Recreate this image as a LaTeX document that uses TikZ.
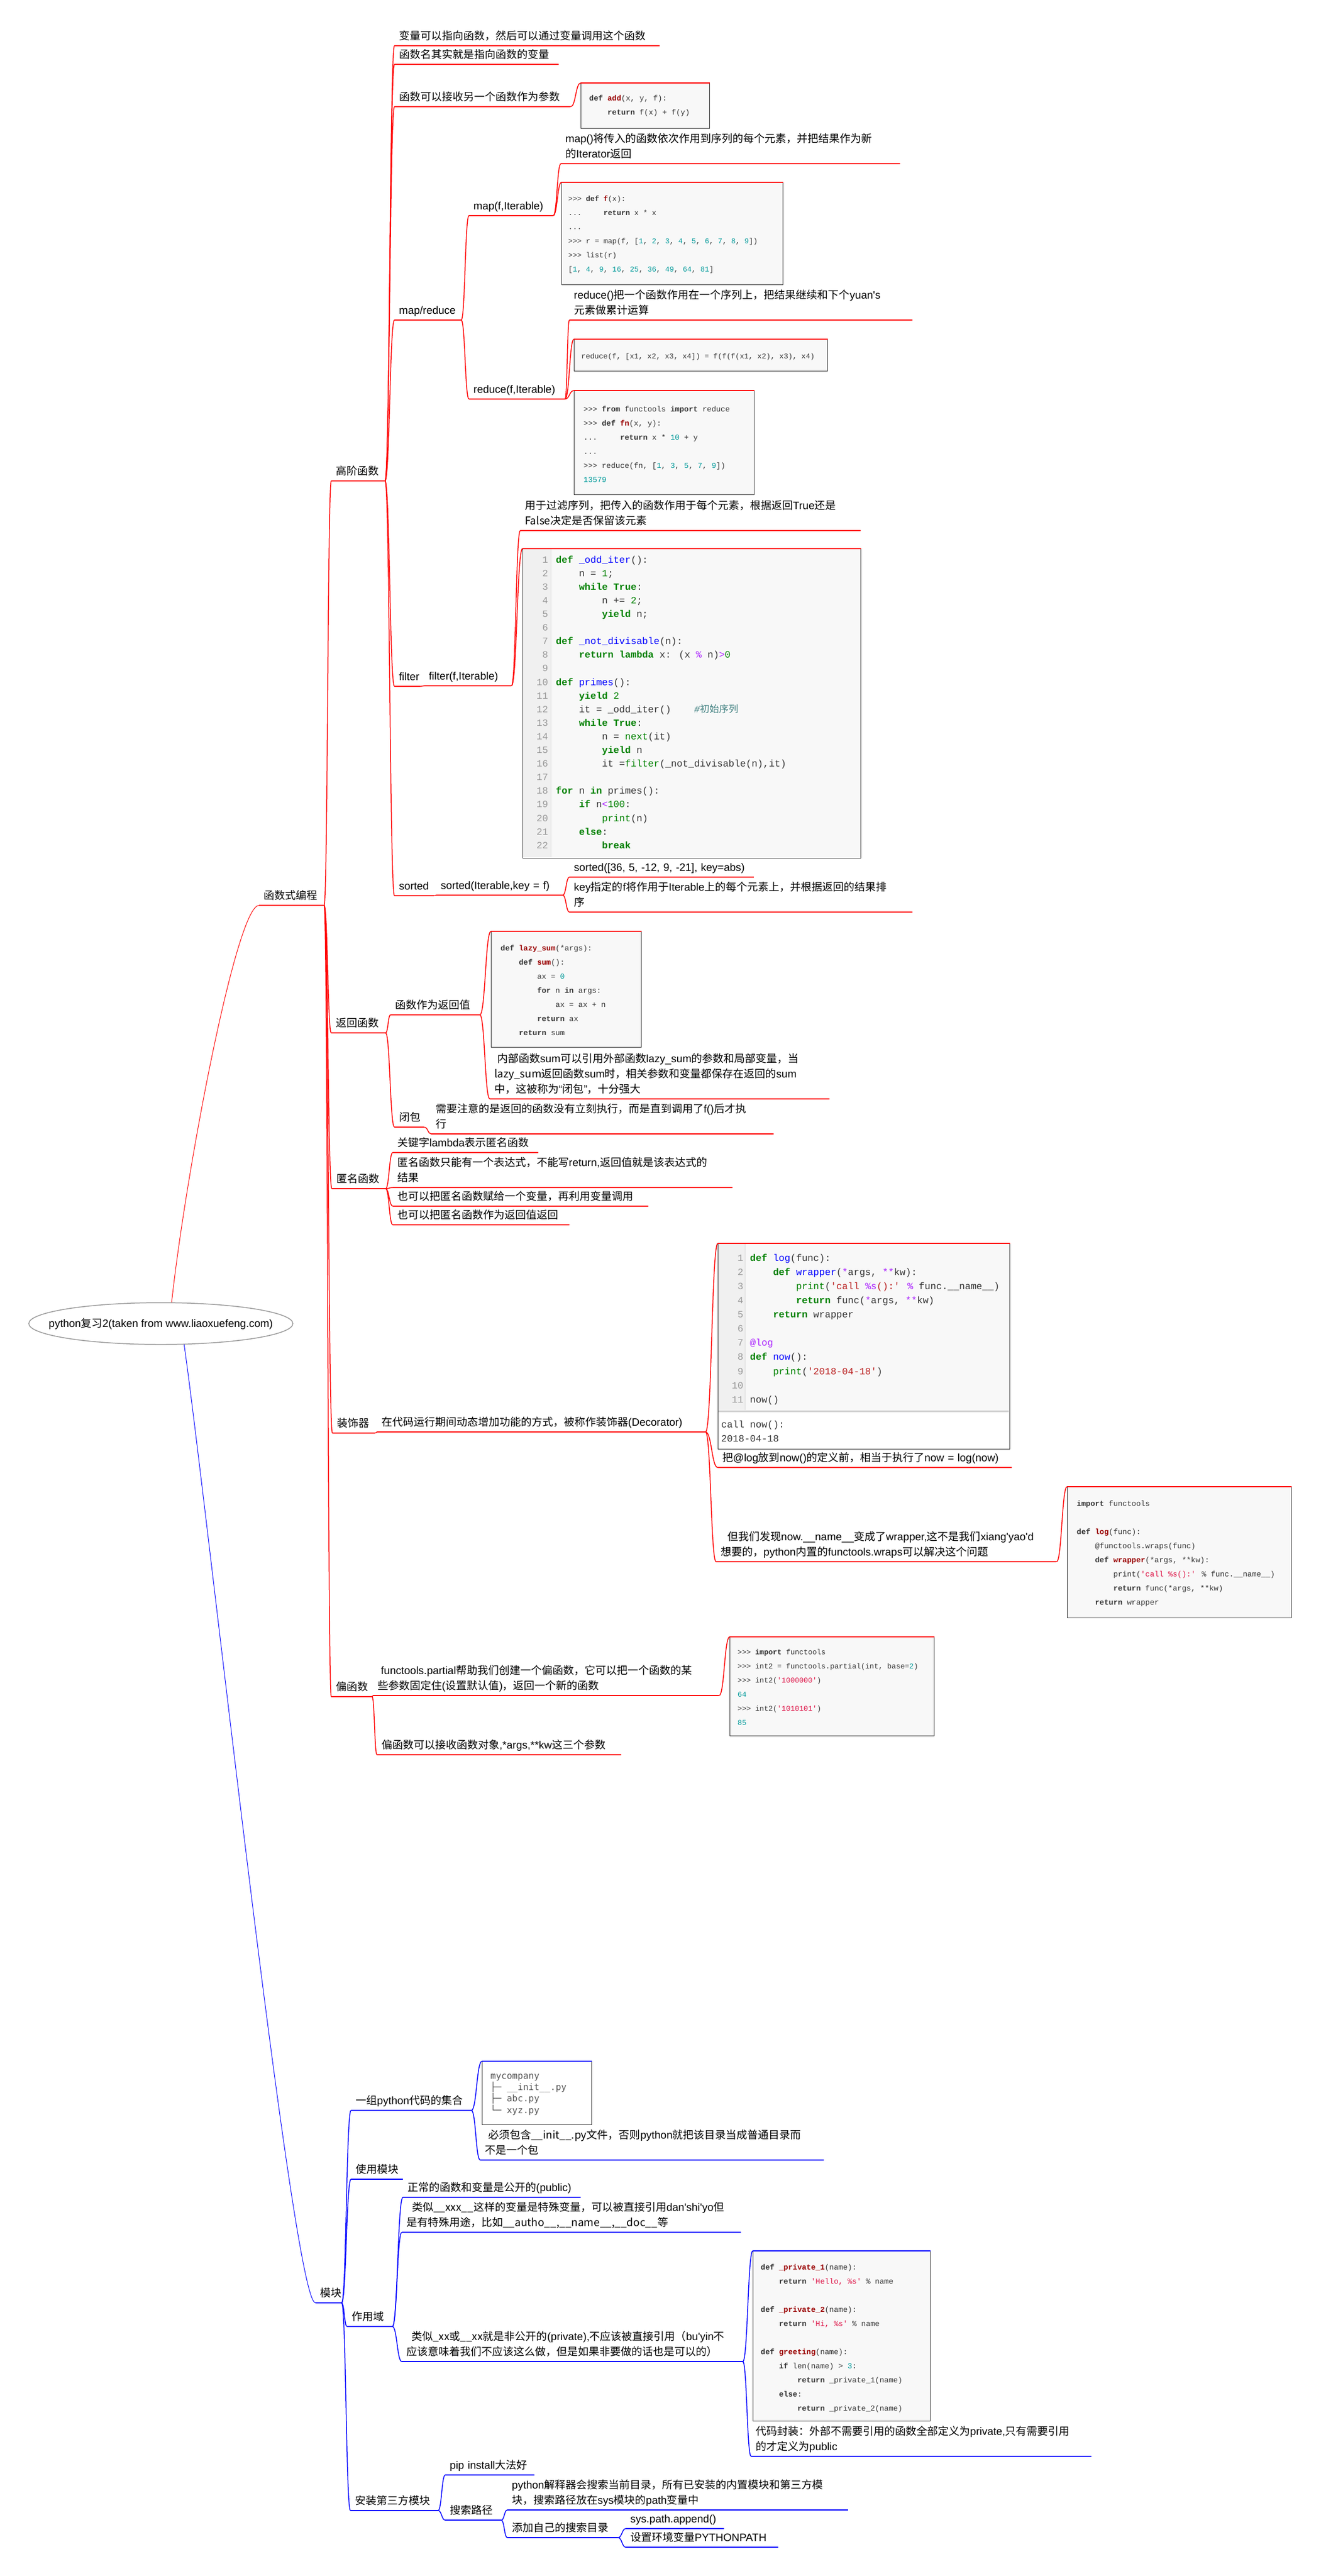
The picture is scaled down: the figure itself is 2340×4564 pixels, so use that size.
\documentclass[tikz,border=0pt]{standalone}
\usepackage{fontspec}
\usetikzlibrary{calc,shapes.geometric}
\setmainfont{Liberation Sans}
\newfontfamily\cjkfont{Noto Sans CJK SC}
\newfontfamily\latfont{Liberation Sans}
\newfontfamily\codefont{Liberation Mono}
\newfontfamily\pkgfont{DejaVu Sans Mono}
\newcount\mmc
\newXeTeXintercharclass\CJKcls
\newcommand\setCJKrange[2]{\mmc=#1\relax\loop\XeTeXcharclass\mmc=\CJKcls\relax\advance\mmc by 1\relax\ifnum\mmc<#2\relax\repeat}
\setCJKrange{"3000}{"3040}
\setCJKrange{"4E00}{"A000}
\setCJKrange{"FF00}{"FFF0}
\XeTeXinterchartoks 0 \CJKcls={\cjkfont}
\XeTeXinterchartoks 4095 \CJKcls={\cjkfont}
\XeTeXinterchartoks \CJKcls 0={\latfont}
\XeTeXinterchartokenstate=1
\definecolor{mmred}{HTML}{FF0000}
\definecolor{mmblue}{HTML}{0000FF}
\definecolor{codebg}{HTML}{F8F8F8}
\definecolor{codefg}{HTML}{333333}
\definecolor{gutbg}{HTML}{F0F0F0}
\definecolor{lnum}{HTML}{999999}
\definecolor{kwg}{HTML}{008000}
\definecolor{fnb}{HTML}{0000FF}
\definecolor{strr}{HTML}{BA2121}
\definecolor{opp}{HTML}{AA22FF}
\definecolor{cmt}{HTML}{408080}
\definecolor{numg}{HTML}{008000}
\definecolor{fnr}{HTML}{990000}
\definecolor{numt}{HTML}{009999}
\definecolor{strp}{HTML}{DD1144}
\definecolor{pkgfg}{HTML}{555555}
\definecolor{ellg}{HTML}{999999}
\newcommand\tsz{\fontsize{19}{27}\selectfont}
\newcommand\Kw[1]{\textcolor{kwg}{\bfseries #1}}
\newcommand\Fb[1]{\textcolor{fnb}{#1}}
\newcommand\Bi[1]{\textcolor{kwg}{#1}}
\newcommand\St[1]{\textcolor{strr}{#1}}
\newcommand\Op[1]{\textcolor{opp}{#1}}
\newcommand\Cm[1]{\textcolor{cmt}{\itshape #1}}
\newcommand\Ng[1]{\textcolor{numg}{#1}}
\newcommand\Kb[1]{{\bfseries #1}}
\newcommand\Fr[1]{\textcolor{fnr}{\bfseries #1}}
\newcommand\Nt[1]{\textcolor{numt}{#1}}
\newcommand\Sp[1]{\textcolor{strp}{#1}}
\newcommand\Ln[1]{\textcolor{lnum}{#1}}
\newcommand\sk[1]{\hspace*{#1\fontcharwd\font`0}}
\newcommand\prm{>\kern0pt>\kern0pt>}
\newcommand\mmlink[3]{%
  \path ($(#2)!0.5!(#3)$) coordinate (lkm);
  \draw[#1] (#2) .. controls (lkm |- #2) and (lkm |- #3) .. (#3);}
\tikzset{
  tx/.style={anchor=south west, inner xsep=8pt, inner ysep=2.4pt, align=left, font=\tsz, execute at end node=\strut},
  rl/.style={draw=mmred, line width=1.5pt},
  bl/.style={draw=mmblue, line width=1.5pt},
  cbox/.style={anchor=north west, draw=black!80, line width=1.2pt, fill=codebg, inner sep=0pt},
  ctext/.style={anchor=north west, inner sep=0pt, text=codefg},
  gutln/.style={draw=black!15, line width=1pt},
  rootn/.style={ellipse, draw=ellg, line width=1.5pt, fill=white, minimum width=468pt, minimum height=74pt, inner xsep=-45pt, inner ysep=0pt, font=\fontsize{19}{23}\selectfont},
}
\begin{document}
\begin{tikzpicture}[x=1pt,y=-1pt]
\useasboundingbox (0,0) rectangle (2340,4564);
\fill[white] (0,0) rectangle (2340,4564);

% ---------- root ----------
\node[rootn] (root) at (285,2345) {python复习2(taken from www.liaoxuefeng.com)};

% ---------- red branch: text nodes ----------
\node[tx, text width=99pt] (fp) at (459,1604) {函数式编程};
\node[tx, text width=79pt] (gj) at (587,852) {高阶函数};
\node[tx, text width=80pt] (fh) at (587,1830) {返回函数};
\node[tx, text width=79pt] (nm) at (588,2106) {匿名函数};
\node[tx, text width=60pt] (zs) at (589,2539) {装饰器};
\node[tx, text width=56pt] (ph) at (587,3006) {偏函数};

\node[tx, text width=454pt] (g1) at (699,81) {变量可以指向函数，然后可以通过变量调用这个函数};
\node[tx, text width=275pt] (g2) at (699,114) {函数名其实就是指向函数的变量};
\node[tx, text width=296pt] (g3) at (699,189) {函数可以接收另一个函数作为参数};
\node[tx, text width=102pt] (mr) at (699,567) {map/reduce};
\node[tx, text width=133pt] (mapf) at (831,382) {map(f,Iterable)};
\node[tx, text width=585pt] (mapd) at (994,290) {map()将传入的函数依次作用到序列的每个元素，并把结果作为新\\的Iterator返回};
\node[tx, text width=154pt] (redf) at (831,707) {reduce(f,Iterable)};
\node[tx, text width=592pt] (redd) at (1009,567) {reduce()把一个函数作用在一个序列上，把结果继续和下个yuan's\\元素做累计运算};
\node[tx, text width=30pt] (fil) at (699,1216) {filter};
\node[tx, text width=138pt] (filf) at (752,1215) {filter(f,Iterable)};
\node[tx, text width=587pt] (fild) at (922,940) {用于过滤序列，把传入的函数作用于每个元素，根据返回True还是\\False决定是否保留该元素};
\node[tx, text width=54pt] (srt) at (699,1587) {sorted};
\node[tx, text width=208pt] (srtf) at (773,1586) {sorted(Iterable,key = f)};
\node[tx, text width=311pt] (srte) at (1009,1554) {sorted([36, 5, -12, 9, -21], key=abs)};
\node[tx, text width=592pt] (srtd) at (1009,1616) {key指定的f将作用于Iterable上的每个元素上，并根据返回的结果排\\序};

\node[tx, text width=142pt] (fh1) at (692,1798) {函数作为返回值};
\node[tx, text width=586pt] (fh1d) at (868,1947) {\hspace*{5pt}内部函数sum可以引用外部函数lazy\_sum的参数和局部变量，当\\lazy\_sum返回函数sum时，相关参数和变量都保存在返回的sum\\中，这被称为“闭包”，十分强大};
\node[tx, text width=37pt] (bb) at (699,1997) {闭包};
\node[tx, text width=591pt] (bbd) at (764,2009) {需要注意的是返回的函数没有立刻执行，而是直到调用了f()后才执\\行};

\node[tx, text width=242pt] (nm1) at (696,2042) {关键字lambda表示匿名函数};
\node[tx, text width=586pt] (nm2) at (696,2104) {匿名函数只能有一个表达式，不能写return,返回值就是该表达式的\\结果};
\node[tx, text width=437pt] (nm3) at (696,2137) {也可以把匿名函数赋给一个变量，再利用变量调用};
\node[tx, text width=297pt] (nm4) at (696,2170) {也可以把匿名函数作为返回值返回};

\node[tx, text width=566pt] (zsd) at (668,2537) {在代码运行期间动态增加功能的方式，被称作装饰器(Decorator)};
\node[tx, text width=505pt] (zs2) at (1272,2600) {把@log放到now()的定义前，相当于执行了now = log(now)};
\node[tx, text width=587pt] (zs3) at (1269,2767) {\hspace*{12pt}但我们发现now.\_\_name\_\_变成了wrapper,这不是我们xiang'yao'd\\想要的，python内置的functools.wraps可以解决这个问题};

\node[tx, text width=597pt] (ph1) at (661,3004) {\hspace*{6pt}functools.partial帮助我们创建一个偏函数，它可以把一个函数的某\\些参数固定住(设置默认值)，返回一个新的函数};
\node[tx, text width=417pt] (ph2) at (668,3109) {偏函数可以接收函数对象,*args,**kw这三个参数};

% ---------- blue branch: text nodes ----------
\node[tx, text width=30pt] (mk) at (559,4080) {模块};
\node[tx, text width=197pt] (mk1) at (622,3739) {一组python代码的集合};
\node[tx, text width=593pt] (mk1d) at (851,3827) {\hspace*{6pt}必须包含\_\_init\_\_.py文件，否则python就把该目录当成普通目录而\\不是一个包};
\node[tx, text width=76pt] (mk2) at (622,3861) {使用模块};
\node[tx, text width=64pt] (mk3) at (615,4122) {作用域};
\node[tx, text width=299pt] (sc1) at (714,3893) {正常的函数和变量是公开的(public)};
\node[tx, text width=585pt] (sc2) at (712,3955) {\hspace*{10pt}类似\_\_xxx\_\_这样的变量是特殊变量，可以被直接引用dan'shi'yo但\\是有特殊用途，比如\_\_autho\_\_,\_\_name\_\_,\_\_doc\_\_等};
\node[tx, text width=588pt] (sc3) at (712,4184) {\hspace*{9pt}类似\_xx或\_\_xx就是非公开的(private),不应该被直接引用（bu'yin不\\应该意味着我们不应该这么做，但是如果非要做的话也是可以的）};
\node[tx, text width=587pt] (sc3d) at (1331,4352) {代码封装：外部不需要引用的函数全部定义为private,只有需要引用\\的才定义为public};
\node[tx, text width=139pt] (mk4) at (621,4448) {安装第三方模块};
\node[tx, text width=142pt] (pip) at (789,4385) {pip install大法好};
\node[tx, text width=83pt] (ss) at (789,4465) {搜索路径};
\node[tx, text width=588pt] (ss1) at (899,4447) {python解释器会搜索当前目录，所有已安装的内置模块和第三方模\\块，搜索路径放在sys模块的path变量中};
\node[tx, text width=180pt] (ss2) at (899,4496) {添加自己的搜索目录};
\node[tx, text width=158pt] (ss2a) at (1109,4480) {sys.path.append()};
\node[tx, text width=254pt] (ss2b) at (1109,4513) {设置环境变量PYTHONPATH};

% ---------- code boxes ----------
\node[cbox, minimum width=228pt, minimum height=80pt] (addbox) at (1029,147) {};
\node[cbox, minimum width=392pt, minimum height=181pt] (mapbox) at (995,323) {};
\node[cbox, minimum width=449pt, minimum height=56pt] (redbox1) at (1017,601) {};
\node[cbox, minimum width=319pt, minimum height=184pt] (redbox2) at (1017,692) {};
\node[cbox, minimum width=599pt, minimum height=548pt] (filbox) at (926,972) {};
\node[cbox, minimum width=266pt, minimum height=205pt] (lazybox) at (870,1650) {};
\node[cbox, minimum width=517pt, minimum height=364pt] (logbox) at (1272,2203) {};
\node[cbox, minimum width=397pt, minimum height=232pt] (wrapbox) at (1891,2634) {};
\node[cbox, minimum width=362pt, minimum height=175pt] (partbox) at (1293,2900) {};
\node[cbox, fill=white, minimum width=194pt, minimum height=112pt] (pkgbox) at (854,3652) {};
\node[cbox, minimum width=314pt, minimum height=301pt] (privbox) at (1334,3988) {};

% gutters and output area
\fill[gutbg] (927,973) rectangle (976,1519);
\draw[gutln] (976,973) -- (976,1519);
\fill[gutbg] (1273,2204) rectangle (1320,2498);
\draw[gutln] (1320,2204) -- (1320,2498);
\fill[white] (1273,2501) rectangle (1788,2566);
\draw[draw=black!18, line width=3pt] (1273,2500) -- (1788,2500);

% ---------- code texts ----------
\node[ctext, font=\codefont\fontsize{13.5}{25}\selectfont] (addcode) at (1044,160.5) {\begin{tabular}{@{}l@{}}
\Kb{def} \Fr{add}(x, y, f):\\
\sk{4}\Kb{return} f(x) + f(y)
\end{tabular}};

\node[ctext, font=\codefont\fontsize{13}{25}\selectfont] (mapcode) at (1007,338.5) {\begin{tabular}{@{}l@{}}
\prm{} \Kb{def} \Fr{f}(x):\\
...\sk{5}\Kb{return} x * x\\
...\\
\prm{} r = map(f, [\Nt{1}, \Nt{2}, \Nt{3}, \Nt{4}, \Nt{5}, \Nt{6}, \Nt{7}, \Nt{8}, \Nt{9}])\\
\prm{} list(r)\\
\relax[\Nt{1}, \Nt{4}, \Nt{9}, \Nt{16}, \Nt{25}, \Nt{36}, \Nt{49}, \Nt{64}, \Nt{81}]
\end{tabular}};

\node[ctext, font=\codefont\fontsize{13}{25}\selectfont] (red1code) at (1030,617.5) {\begin{tabular}{@{}l@{}}
reduce(f, [x1, x2, x3, x4]) = f(f(f(x1, x2), x3), x4)
\end{tabular}};

\node[ctext, font=\codefont\fontsize{13.5}{25}\selectfont] (red2code) at (1034,711.5) {\begin{tabular}{@{}l@{}}
\prm{} \Kb{from} functools \Kb{import} reduce\\
\prm{} \Kb{def} \Fr{fn}(x, y):\\
...\sk{5}\Kb{return} x * \Nt{10} + y\\
...\\
\prm{} reduce(fn, [\Nt{1}, \Nt{3}, \Nt{5}, \Nt{7}, \Nt{9}])\\
\Nt{13579}
\end{tabular}};

\node[ctext, font=\codefont\fontsize{17}{24.1}\selectfont] (filcode) at (950.6,980.1) {\begin{tabular}{@{}r@{\hspace{14pt}}l@{}}
\Ln{1} & \Kw{def} \Fb{\_odd\_iter}():\\
\Ln{2} & \sk{4}n = \Ng{1};\\
\Ln{3} & \sk{4}\Kw{while} \Kw{True}:\\
\Ln{4} & \sk{8}n += \Ng{2};\\
\Ln{5} & \sk{8}\Kw{yield} n;\\
\Ln{6} & \\
\Ln{7} & \Kw{def} \Fb{\_not\_divisable}(n):\\
\Ln{8} & \sk{4}\Kw{return} \Kw{lambda} x: (x \Op{\%} n)\Op{>}\Ng{0}\\
\Ln{9} & \\
\Ln{10} & \Kw{def} \Fb{primes}():\\
\Ln{11} & \sk{4}\Kw{yield} \Ng{2}\\
\Ln{12} & \sk{4}it = \_odd\_iter()\sk{4}\Cm{\#初始序列}\\
\Ln{13} & \sk{4}\Kw{while} \Kw{True}:\\
\Ln{14} & \sk{8}n = \Bi{next}(it)\\
\Ln{15} & \sk{8}\Kw{yield} n\\
\Ln{16} & \sk{8}it =\Bi{filter}(\_not\_divisable(n),it)\\
\Ln{17} & \\
\Ln{18} & \Kw{for} n \Kw{in} primes():\\
\Ln{19} & \sk{4}\Kw{if} n\Op{<}\Ng{100}:\\
\Ln{20} & \sk{8}\Bi{print}(n)\\
\Ln{21} & \sk{4}\Kw{else}:\\
\Ln{22} & \sk{8}\Kw{break}
\end{tabular}};

\node[ctext, font=\codefont\fontsize{13.5}{25}\selectfont] (lazycode) at (887,1666.5) {\begin{tabular}{@{}l@{}}
\Kb{def} \Fr{lazy\_sum}(*args):\\
\sk{4}\Kb{def} \Fr{sum}():\\
\sk{8}ax = \Nt{0}\\
\sk{8}\Kb{for} n \Kb{in} args:\\
\sk{12}ax = ax + n\\
\sk{8}\Kb{return} ax\\
\sk{4}\Kb{return} sum
\end{tabular}};

\node[ctext, font=\codefont\fontsize{17}{25.1}\selectfont] (logcode) at (1296.6,2216.4) {\begin{tabular}{@{}r@{\hspace{12pt}}l@{}}
\Ln{1} & \Kw{def} \Fb{log}(func):\\
\Ln{2} & \sk{4}\Kw{def} \Fb{wrapper}(\Op{*}args, \Op{**}kw):\\
\Ln{3} & \sk{8}\Bi{print}(\St{'call }\Op{\%s}\St{():'} \Op{\%} func.\_\_name\_\_)\\
\Ln{4} & \sk{8}\Kw{return} func(\Op{*}args, \Op{**}kw)\\
\Ln{5} & \sk{4}\Kw{return} wrapper\\
\Ln{6} & \\
\Ln{7} & \Op{@log}\\
\Ln{8} & \Kw{def} \Fb{now}():\\
\Ln{9} & \sk{4}\Bi{print}(\St{'2018-04-18'})\\
\Ln{10} & \\
\Ln{11} & now()
\end{tabular}};

\node[ctext, font=\codefont\fontsize{17}{25.5}\selectfont] (logout) at (1278,2511.2) {\begin{tabular}{@{}l@{}}
call now():\\
2018-04-18
\end{tabular}};

\node[ctext, font=\codefont\fontsize{13.5}{25}\selectfont] (wrapcode) at (1908,2650.5) {\begin{tabular}{@{}l@{}}
\Kb{import} functools\\
\\
\Kb{def} \Fr{log}(func):\\
\sk{4}@functools.wraps(func)\\
\sk{4}\Kb{def} \Fr{wrapper}(*args, **kw):\\
\sk{8}print(\Sp{'call \%s():'} \% func.\_\_name\_\_)\\
\sk{8}\Kb{return} func(*args, **kw)\\
\sk{4}\Kb{return} wrapper
\end{tabular}};

\node[ctext, font=\codefont\fontsize{13}{25}\selectfont] (partcode) at (1307,2913.5) {\begin{tabular}{@{}l@{}}
\prm{} \Kb{import} functools\\
\prm{} int2 = functools.partial(int, base=\Nt{2})\\
\prm{} int2(\Sp{'1000000'})\\
\Nt{64}\\
\prm{} int2(\Sp{'1010101'})\\
\Nt{85}
\end{tabular}};

\node[ctext, text=pkgfg, font=\pkgfont\fontsize{16}{17.5}\selectfont] (pkgcode) at (869,3670.75) {\begin{tabular}{@{}l@{}}
mycompany\\
├─ \_\_init\_\_.py\\
├─ abc.py\\
└─ xyz.py
\end{tabular}};

\node[ctext, font=\codefont\fontsize{13.5}{25}\selectfont] (privcode) at (1348,4003.5) {\begin{tabular}{@{}l@{}}
\Kb{def} \Fr{\_private\_1}(name):\\
\sk{4}\Kb{return} \Sp{'Hello, \%s'} \% name\\
\\
\Kb{def} \Fr{\_private\_2}(name):\\
\sk{4}\Kb{return} \Sp{'Hi, \%s'} \% name\\
\\
\Kb{def} \Fr{greeting}(name):\\
\sk{4}\Kb{if} len(name) > \Nt{3}:\\
\sk{8}\Kb{return} \_private\_1(name)\\
\sk{4}\Kb{else}:\\
\sk{8}\Kb{return} \_private\_2(name)
\end{tabular}};

% ---------- underlines ----------
\foreach \n in {fp,gj,fh,nm,zs,ph,g1,g2,g3,mr,mapf,mapd,redf,redd,fil,filf,fild,srt,srtf,srte,srtd,fh1,fh1d,bb,bbd,nm1,nm2,nm3,nm4,zsd,zs2,zs3,ph1,ph2}
  \draw[rl] (\n.south west) -- (\n.south east);
\foreach \n in {mk,mk1,mk1d,mk2,mk3,sc1,sc2,sc3,sc3d,mk4,pip,ss,ss1,ss2,ss2a,ss2b}
  \draw[bl] (\n.south west) -- (\n.south east);
\foreach \n in {addbox,mapbox,redbox1,redbox2,filbox,lazybox,logbox,wrapbox,partbox}
  \draw[rl] (\n.north west) -- (\n.north east);
\foreach \n in {pkgbox,privbox}
  \draw[bl] (\n.north west) -- (\n.north east);

% ---------- connectors ----------
\draw[draw=mmred, line width=1pt] (root.63) .. controls +(25,-230) and +(-40,0) .. (fp.south west);
\draw[draw=mmblue, line width=1pt] (root.-42) .. controls +(40,280) and +(-40,0) .. (mk.south west);

\foreach \a/\b in {fp/gj,fp/fh,fp/nm,fp/zs,fp/ph,gj/g1,gj/g2,gj/g3,gj/mr,gj/fil,gj/srt,mr/mapf,mr/redf,mapf/mapd,redf/redd,fil/filf,filf/fild,srt/srtf,srtf/srte,srtf/srtd,fh/fh1,fh/bb,fh1/fh1d,bb/bbd,nm/nm1,nm/nm2,nm/nm3,nm/nm4,zs/zsd,zsd/zs2,zsd/zs3,ph/ph1,ph/ph2}
  {\mmlink{rl}{\a.south east}{\b.south west}}
\foreach \a/\b in {g3/addbox,mapf/mapbox,redf/redbox1,redf/redbox2,filf/filbox,fh1/lazybox,zsd/logbox,zs3/wrapbox,ph1/partbox}
  {\mmlink{rl}{\a.south east}{\b.north west}}
\foreach \a/\b in {mk/mk1,mk/mk2,mk/mk3,mk/mk4,mk1/mk1d,mk3/sc1,mk3/sc2,mk3/sc3,sc3/sc3d,mk4/pip,mk4/ss,ss/ss1,ss/ss2,ss2/ss2a,ss2/ss2b}
  {\mmlink{bl}{\a.south east}{\b.south west}}
\foreach \a/\b in {mk1/pkgbox,sc3/privbox}
  {\mmlink{bl}{\a.south east}{\b.north west}}
\end{tikzpicture}
\end{document}
